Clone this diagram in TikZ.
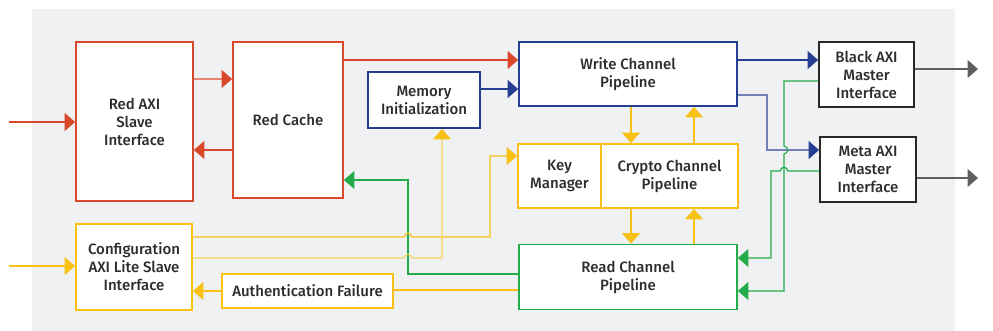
\documentclass[tikz,border=0pt]{standalone}
\usepackage{fontspec}
\setmainfont{Fira Sans}[UprightFont={* Medium}]
\usepackage{xcolor}
\usetikzlibrary{arrows.meta, positioning, calc}

\definecolor{axired}{RGB}{217,72,43}
\definecolor{axiblue}{RGB}{38,62,145}
\definecolor{axiyellow}{RGB}{248,193,22}
\definecolor{axigreen}{RGB}{36,172,74}
\definecolor{axiblack}{RGB}{40,40,40}
\definecolor{axigray}{RGB}{95,95,95}
\definecolor{bggray}{RGB}{240,241,243}
\definecolor{textgray}{RGB}{45,45,45}

\begin{document}
\begin{tikzpicture}[x=1pt, y=-1pt,
  every node/.style={font=\fontsize{15}{18}\selectfont, text=textgray, align=center},
  box/.style={draw, line width=1.8pt, fill=white, inner sep=0pt},
  conn/.style={line width=1.2pt, -{Triangle[length=10.5pt,width=18pt]}},
  plain/.style={line width=1.2pt}]

  % page and gray panel
  \useasboundingbox (0,0) rectangle (993,331);
  \fill[bggray] (32,9) rectangle (955,331);

  % red side
  \node[box, draw=axired, minimum width=117pt, minimum height=159pt] (redaxi) at (134.5,121.5) {Red AXI\\Slave\\Interface};
  \node[box, draw=axired, minimum width=110pt, minimum height=156pt] (redcache) at (288,120) {Red Cache};
  \node[box, draw=axiblue, minimum width=112pt, minimum height=56pt] (meminit) at (424,100) {Memory\\Initialization};

  % pipelines
  \node[box, draw=axiblue, minimum width=218pt, minimum height=64pt] (write) at (628,74) {Write Channel\\Pipeline};
  \node[box, draw=axiyellow, minimum width=83pt, minimum height=64pt] (key) at (559.5,176) {Key\\Manager};
  \node[box, draw=axiyellow, minimum width=137pt, minimum height=64pt] (crypto) at (669.5,176) {Crypto Channel\\Pipeline};
  \node[box, draw=axigreen, minimum width=218pt, minimum height=65pt] (read) at (628,277) {Read Channel\\Pipeline};

  % black side
  \node[box, draw=axiblack, minimum width=95pt, minimum height=65pt] (black) at (866.5,74.5) {Black AXI\\Master\\Interface};
  \node[box, draw=axiblack, minimum width=96pt, minimum height=65pt] (meta) at (868,169.5) {Meta AXI\\Master\\Interface};

  % configuration
  \node[box, draw=axiyellow, minimum width=116pt, minimum height=86pt] (config) at (134,267) {Configuration\\AXI Lite Slave\\Interface};
  \node[box, draw=axiyellow, minimum width=171pt, minimum height=34pt] (auth) at (307.5,291) {Authentication Failure};

  % free ends
  \coordinate (inred) at (9,122);
  \coordinate (inconfig) at (9,266);
  \coordinate (outblack) at (978,69);
  \coordinate (outmeta) at (978,178);

  % red connectors
  \draw[conn, axired] (inred) -- (redaxi.west |- inred);
  \draw[conn, axired!65, -{Triangle[length=10.5pt,width=18pt,color=axired]}] (redaxi.east |- 0,79) -- (redcache.west |- 0,79);
  \draw[conn, axired] (redcache.west |- 0,150) -- (redaxi.east |- 0,150);
  \draw[conn, axired] (redcache.east |- 0,60) -- (write.west |- 0,60);

  % blue connectors
  \draw[conn, axiblue] (meminit.east |- 0,89) -- (write.west |- 0,89);
  \draw[conn, axiblue] (write.east |- 0,60) -- (black.west |- 0,60);
  \draw[conn, axiblue!65, -{Triangle[length=10.5pt,width=18pt,color=axiblue]}] (write.east |- 0,95) -- (767,95) -- (767,150) -- (meta.west |- 0,150);

  % outputs
  \draw[conn, axigray] (black.east |- outblack) -- (outblack);
  \draw[conn, axigray] (meta.east |- outmeta) -- (outmeta);

  % green returns (with line hops)
  \draw[conn, axigreen] (black.west |- 0,81) -- (784,81) -- (784,146)
    .. controls (789,147) and (789,153) .. (784,154) -- (784,291) -- (read.east |- 0,291);
  \draw[conn, axigreen] (meta.west |- 0,171) -- (788,171)
    .. controls (786,166) and (782,166) .. (780,171) -- (771,171) -- (771,258) -- (read.east |- 0,258);
  \draw[conn, axigreen] (read.west |- 0,274) -- (408,274) -- (408,180) -- (redcache.east |- 0,180);

  % crypto links
  \draw[conn, axiyellow] (write.south -| 631,0) -- (crypto.north -| 631,0);
  \draw[conn, axiyellow] (crypto.north -| 694,0) -- (write.south -| 694,0);
  \draw[conn, axiyellow] (crypto.south -| 631,0) -- (read.north -| 631,0);
  \draw[conn, axiyellow] (read.north -| 694,0) -- (crypto.south -| 694,0);

  % configuration links
  \draw[conn, axiyellow] (inconfig) -- (config.west |- inconfig);
  \draw[conn, axiyellow] (config.east |- 0,237) -- (404,237)
    .. controls (406,232) and (410,232) .. (412,237) -- (490,237) -- (490,156) -- (key.west |- 0,156);
  \draw[conn, axiyellow!70, -{Triangle[length=10.5pt,width=18pt,color=axiyellow]}] (config.east |- 0,258) -- (404,258)
    .. controls (406,253) and (410,253) .. (412,258) -- (442,258) -- (meminit.south -| 442,0);
  \draw[plain, axiyellow] (read.west |- 0,290) -- (auth.east |- 0,290);
  \draw[conn, axiyellow] (auth.west) -- (config.east |- auth.west);
\end{tikzpicture}
\end{document}
